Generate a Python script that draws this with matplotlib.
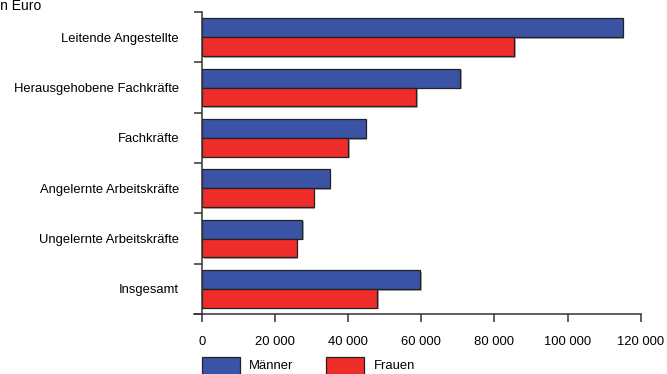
import matplotlib
matplotlib.use("Agg")
import matplotlib.pyplot as plt
import matplotlib.patheffects as pe
from matplotlib.patches import Rectangle
from matplotlib.ticker import FixedLocator, FuncFormatter, NullFormatter

plt.rcParams['font.family'] = ['Liberation Sans', 'DejaVu Sans']

categories = ["Leitende Angestellte", "Herausgehobene Fachkräfte", "Fachkräfte",
              "Angelernte Arbeitskräfte", "Ungelernte Arbeitskräfte", "Insgesamt"]
maenner = [115100, 70700, 44800, 34900, 27400, 59700]
frauen = [85400, 58500, 40000, 30500, 25900, 48000]
x_ticks = [0, 20000, 40000, 60000, 80000, 100000, 120000]
unit_label = "in Euro"
series_names = ["Männer", "Frauen"]

BLUE = "#3B53A4"
RED = "#EE2D2A"
EDGE = "#222222"
AXIS = "#333333"
FS = 9.4

W, H = 667, 374
fig = plt.figure(figsize=(W / 100, H / 100), dpi=100)
ax = fig.add_axes([202 / W, (H - 314) / H, (640.7 - 202) / W, (314 - 12) / H])

shadow = [pe.SimplePatchShadow(offset=(1.2, -1.2), shadow_rgbFace="#888888", alpha=0.7), pe.Normal()]
h = 0.372
ys = list(range(len(categories)))
b1 = ax.barh([y - h / 2 for y in ys], maenner, height=h, color=BLUE, edgecolor=EDGE, linewidth=0.9)
b2 = ax.barh([y + h / 2 for y in ys], frauen, height=h, color=RED, edgecolor=EDGE, linewidth=0.9)
for bar in list(b1) + list(b2):
    bar.set_path_effects(shadow)

ax.set_xlim(0, 120000)
ax.set_ylim(len(categories) - 0.5, -0.5)

for side in ("top", "right"):
    ax.spines[side].set_visible(False)
for side in ("left", "bottom"):
    ax.spines[side].set_color(AXIS)
    ax.spines[side].set_linewidth(1.1)

ax.set_xticks(x_ticks)
ax.xaxis.set_major_formatter(FuncFormatter(lambda v, p: f"{int(v):,}".replace(",", " ")))
ax.tick_params(axis="x", direction="out", length=5.8, width=1.1, color=AXIS,
               labelsize=FS, pad=10)

ax.yaxis.set_major_locator(FixedLocator([i - 0.5 for i in range(len(categories) + 1)]))
ax.yaxis.set_major_formatter(NullFormatter())
ax.yaxis.set_minor_locator(FixedLocator(ys))
ax.set_yticklabels(categories, minor=True)
ax.tick_params(axis="y", which="major", direction="out", length=5.8, width=1.1, color=AXIS)
ax.tick_params(axis="y", which="minor", length=0, labelsize=FS, pad=16.5)
ax.spines["bottom"].set_bounds(0, 120000)
ax.spines["left"].set_clip_on(False)

# extend the baseline slightly left to meet the lowest tick
fig.add_artist(plt.Line2D([194 / W, 202 / W], [(H - 314) / H] * 2, color=AXIS, lw=1.1))

fig.text(-3.3 / W, (H - 6.5) / H, unit_label, fontsize=10, ha="left", va="center")

# legend boxes
for x0, x1, tx, col, name in [(201.7, 240, 249.3, BLUE, series_names[0]),
                              (325.7, 364.3, 374, RED, series_names[1])]:
    fig.add_artist(Rectangle((x0 / W, -0.02), (x1 - x0) / W, (H - 357.3) / H + 0.02,
                             facecolor=col, edgecolor=EDGE, linewidth=0.9,
                             transform=fig.transFigure))
    fig.text(tx / W, (H - 365.7) / H, name, fontsize=FS, ha="left", va="center")

fig.savefig("out.png", dpi=100)
